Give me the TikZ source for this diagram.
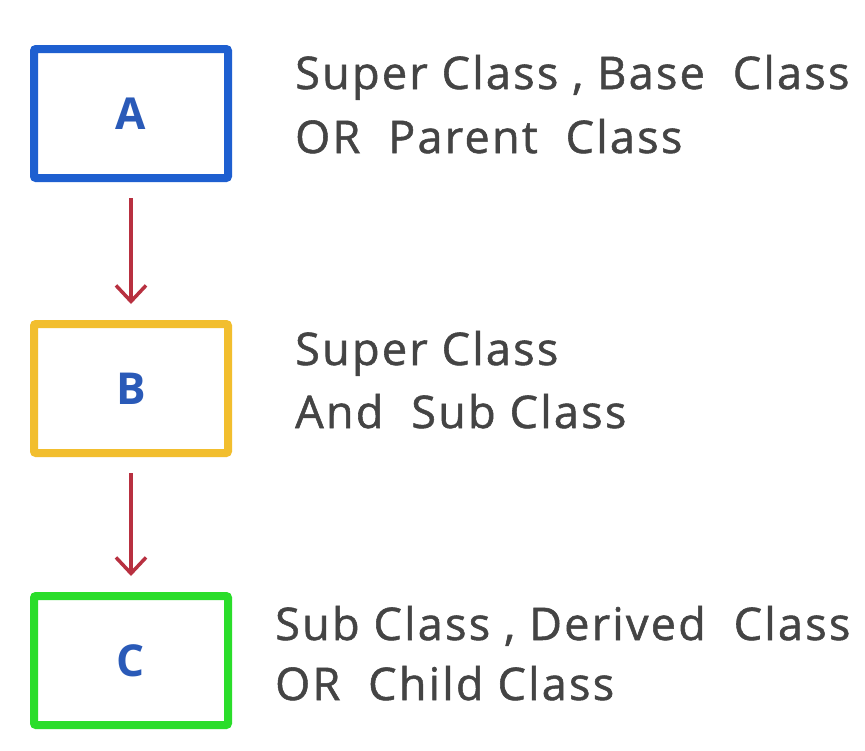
\documentclass[tikz,border=0pt]{standalone}
\usepackage{fontspec}
\setmainfont{Open Sans}
\newfontfamily\descfont{Open Sans}[FakeBold=1.2, LetterSpace=5]
\usetikzlibrary{arrows.meta}
\definecolor{boxblue}{HTML}{1E5FD0}
\definecolor{boxgold}{HTML}{F2BE2E}
\definecolor{boxgreen}{HTML}{2ADD2A}
\definecolor{lettblue}{HTML}{2A5AB8}
\definecolor{arrowred}{HTML}{B83040}
\definecolor{txtgray}{HTML}{444444}
\tikzset{
  classbox/.style={draw, line width=8pt, rounded corners=2pt, minimum width=194pt,
    minimum height=129pt, inner sep=0pt, font=\bfseries\fontsize{44}{44}\selectfont,
    text=lettblue},
  desc/.style={anchor=base west, inner sep=0pt, text=txtgray,
    font=\descfont\fontsize{45}{45}\selectfont},
  inherit/.style={draw=arrowred, line width=3.5pt,
    -{Straight Barb[length=16pt,width=30pt,line width=3.5pt]}}
}
\begin{document}
\begin{tikzpicture}[x=1pt,y=-1pt]
\useasboundingbox[fill=white] (0,0) rectangle (865,750);
\node[classbox, draw=boxblue]  (A) at (131,113.5) {A};
\node[classbox, draw=boxgold]  (B) at (131,388.5) {B};
\node[classbox, draw=boxgreen] (C) at (131,660.5) {C};
\draw[inherit] ([yshift=-16pt]A.south) -- ([yshift=16pt]B.north);
\draw[inherit] ([yshift=-16pt]B.south) -- ([yshift=16pt]C.north);
\node[desc] (a1) at (295,89) {Super Class , Base\ \ Class};
\node[desc] (a2) at (295,153) {OR\ \ Parent\ \ Class};
\node[desc] (b1) at (295,365) {Super Class};
\node[desc] (b2) at (295,428) {And\ \ Sub Class};
\node[desc] (c1) at (275,640) {Sub Class , Derived\ \ Class};
\node[desc] (c2) at (275,700) {OR\ \ Child Class};
\end{tikzpicture}
\end{document}
